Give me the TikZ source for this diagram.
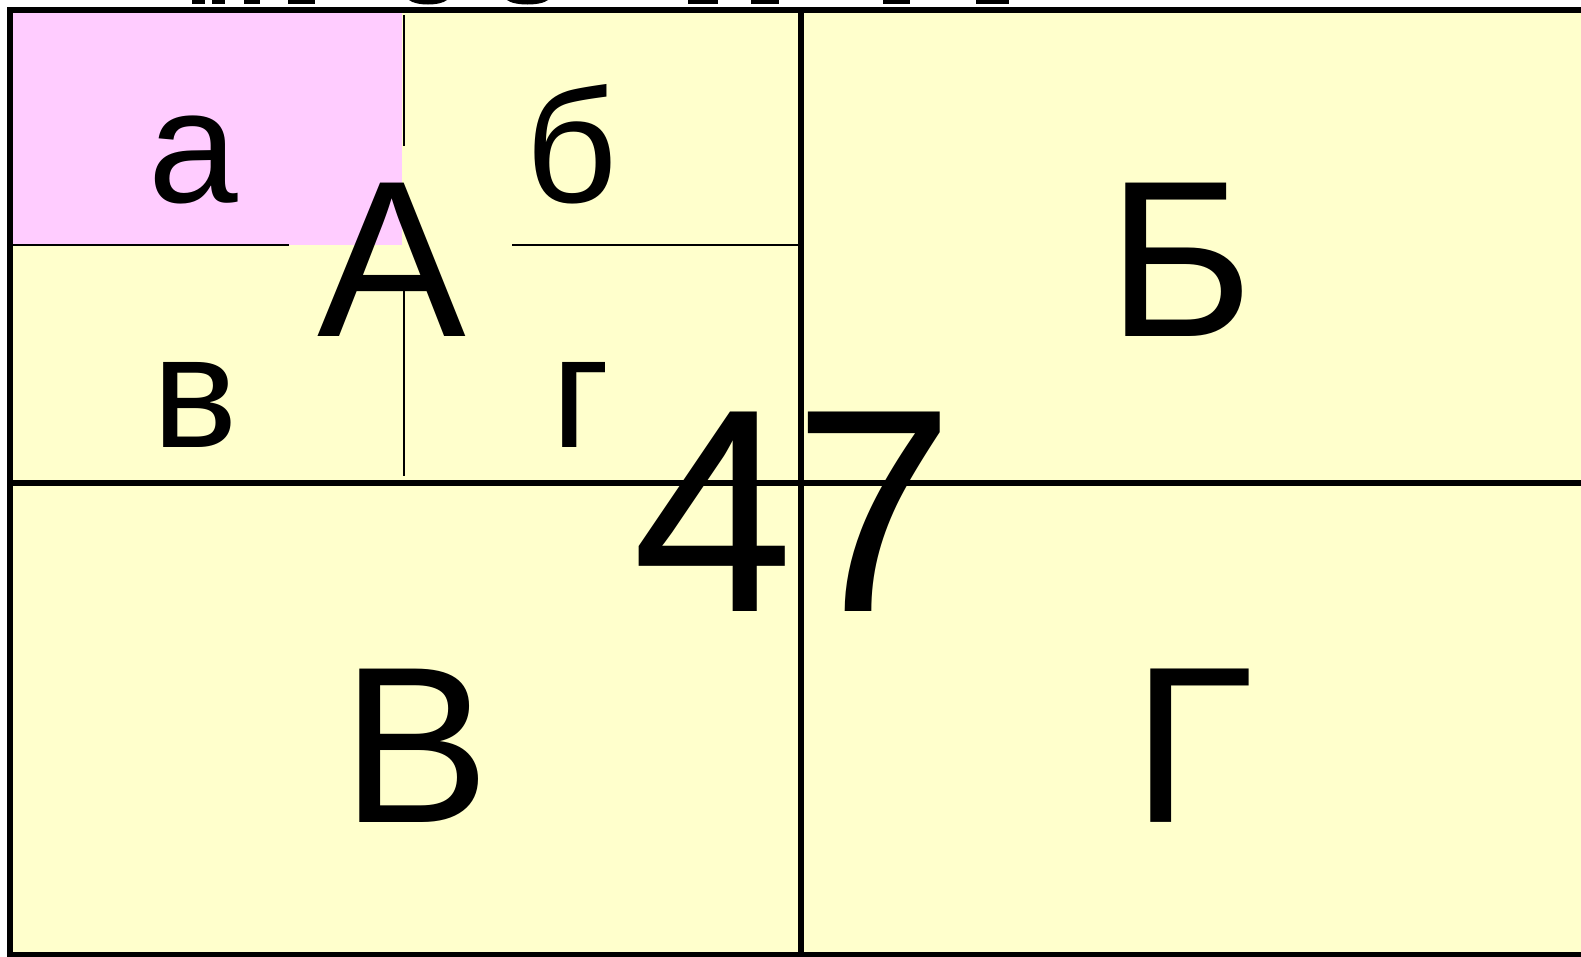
\documentclass[tikz,border=0pt]{standalone}
\usepackage{fontspec}
\setmainfont{Liberation Sans}
\definecolor{cellyellow}{HTML}{FFFFCC}
\definecolor{cellpink}{HTML}{FFCCFF}
\tikzset{
  frameline/.style={line width=6pt, line cap=rect},
  thinline/.style={line width=2.6pt},
  smallletter/.style={anchor=base, inner sep=0pt, font=\fontsize{161}{161}\selectfont},
  bigletter/.style={anchor=base, inner sep=0pt, font=\fontsize{223}{223}\selectfont},
  bignumber/.style={anchor=base, inner sep=0pt, font=\fontsize{290}{290}\selectfont},
  fragment/.style={fill=black},
}
\begin{document}
\begin{tikzpicture}[x=1pt,y=-1pt]
\clip (0,0) rectangle (1581,956);
\fill[white] (0,0) rectangle (1581,956);
\fill[cellyellow] (10,10) rectangle (1600,955);
\fill[cellpink] (13,13) rectangle (402,245);
% thin inner lines
\draw[thinline] (404,15) -- (404,146);
\draw[thinline] (404,289) -- (404,476);
\draw[thinline] (13,245) -- (289,245);
\draw[thinline] (512,245) -- (800,245);
% thick frame
\draw[frameline] (1600,10) -- (10,10) -- (10,955) -- (1600,955);
\draw[frameline] (801,10) -- (801,955);
\draw[frameline] (10,483) -- (1600,483);
% cut-off title fragments at the top edge
\fill[fragment] (192,0) rectangle (205,4);
\fill[fragment] (212,0) rectangle (225,4);
\fill[fragment] (244,0) rectangle (260,4);
\fill[fragment] (288,0) rectangle (315,4);
\fill[fragment] (409,0) .. controls (416,6) and (440,6) .. (447,0) -- cycle;
\fill[fragment] (507,0) .. controls (514,6) and (541,6) .. (548,0) -- cycle;
\fill[fragment] (688,0) rectangle (718,4);
\fill[fragment] (751,0) rectangle (779,4);
\fill[fragment] (883,0) rectangle (910,4);
\fill[fragment] (976,0) rectangle (1009,4);
% letters
\node[smallletter] (a) at (193,202) {а};
\node[smallletter] (b) at (572,202) {б};
\node[smallletter] (v) at (195,447) {в};
\node[smallletter] (g) at (581,447) {г};
\node[bigletter] (A) at (392,336) {А};
\node[bigletter] (B) at (1181,336) {Б};
\node[bigletter] (V) at (416,822) {В};
\node[bigletter] (G) at (1193,822) {Г};
\node[bignumber] (n) at (794,611) {47};
\end{tikzpicture}
\end{document}
